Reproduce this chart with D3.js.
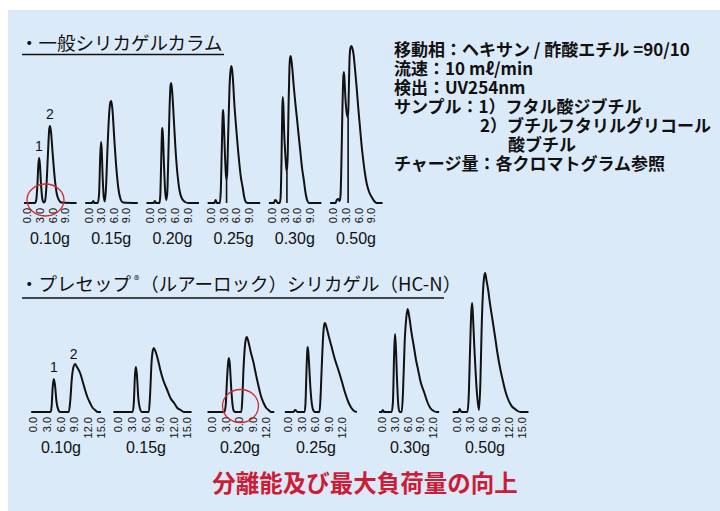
<!DOCTYPE html>
<html><head><meta charset="utf-8">
<script src="https://cdn.jsdelivr.net/npm/d3@7"></script>
<style>
html,body{margin:0;padding:0;background:#fff;}
svg{display:block;}
</style></head>
<body>
<svg id="chart" width="720" height="511"></svg>
<script>
// ---------------- DATA ----------------
const topLoads = ["0.10g","0.15g","0.20g","0.25g","0.30g","0.50g"];
const bottomLoads = ["0.10g","0.15g","0.20g","0.25g","0.30g","0.50g"];
const topTicks = [0,3,6,9];
const bottomTicks = [[0,3,6,9,12,15],[0,3,6,9,12,15],[0,3,6,9,12],[0,3,6,9,12],[0,3,6,9,12],[0,3,6,9,12,15]];

// [retention time (min), detector response]
const top010 = [[-0.7,0],[1.9,0],[2.2,3],[2.5,20],[2.7,38],[2.86,45],[3.05,40],[3.35,18],[3.65,4],[4.0,0.5],[4.3,2],[4.6,15],[5.0,50],[5.3,74],[5.48,77],[5.7,72],[6.1,50],[6.6,25],[7.1,9],[7.6,3],[8.2,0.5],[11.8,0]];
const top015 = [[-0.7,0],[0.9,0],[1.2,2],[1.5,0],[2.3,0],[2.6,10],[2.85,45],[3.05,61],[3.2,55],[3.45,25],[3.7,6],[3.95,1.5],[4.2,12],[4.6,55],[5.0,90],[5.3,101],[5.5,102],[5.8,92],[6.2,65],[6.7,35],[7.2,14],[7.7,4],[8.3,0.5],[11.8,0]];
const top020 = [[-0.7,0],[1.0,0],[1.3,2],[1.6,0],[2.4,0],[2.6,8],[2.8,40],[3.0,72],[3.1,75],[3.25,65],[3.5,35],[3.75,12],[4.0,3],[4.25,10],[4.5,45],[4.8,95],[5.05,118],[5.2,120],[5.45,110],[5.8,85],[6.2,55],[6.7,28],[7.2,12],[7.8,4],[8.5,1],[9.3,0],[11.8,0]];
const top025 = [[-0.7,0],[0.9,0],[1.2,3],[1.5,0],[2.2,0],[2.45,15],[2.7,60],[2.9,90],[3.0,93],[3.15,80],[3.4,50],[3.65,28],[3.8,23],[3.95,30],[4.2,70],[4.5,115],[4.8,134],[5.0,137],[5.3,125],[5.64,100],[6.0,80],[6.27,66],[6.6,50],[6.83,40],[7.2,26],[7.62,16],[8.0,6],[8.4,1],[8.9,0],[11.8,0]];
const top030 = [[-0.7,0],[0.5,0],[0.8,3],[1.1,2],[1.4,0],[1.9,0],[2.1,6],[2.3,40],[2.5,95],[2.6,106],[2.75,98],[2.95,70],[3.2,50],[3.45,35],[3.6,31],[3.8,50],[4.0,100],[4.2,135],[4.35,145],[4.5,147],[4.8,138],[5.24,116],[5.6,100],[6.03,83],[6.43,66],[6.83,50],[7.2,35],[7.62,23],[8.0,11],[8.4,3],[8.9,0],[11.8,0]];
const top050 = [[-0.7,0],[0.6,0],[0.9,3],[1.3,4],[1.6,2],[1.8,8],[2.0,40],[2.25,95],[2.45,125],[2.6,131],[2.75,122],[2.95,105],[3.2,92],[3.45,86],[3.6,86],[3.75,110],[3.95,145],[4.15,155],[4.35,157],[4.6,155],[4.85,150],[5.2,136],[5.6,117],[6.0,96],[6.4,77],[6.8,58],[7.2,43],[7.6,30],[8.0,20],[8.6,11],[9.2,6],[9.8,2],[10.4,0],[11.8,0]];
const topDrops = [null,null,null,3.8,3.6,3.6];

const bot010 = [[-0.4,0],[3.9,0],[4.1,5],[4.35,25],[4.6,33],[4.85,27],[5.2,10],[5.6,2],[6.0,0],[7.9,0],[8.2,10],[8.6,35],[9.0,46],[9.3,48],[9.7,45],[10.4,39],[11.0,30],[11.5,22],[12.0,15],[12.6,9],[13.2,4],[13.7,2],[14.3,0],[15.0,0]];
const bot015 = [[-1,0],[3.2,0],[3.45,10],[3.7,38],[3.9,45],[4.1,38],[4.4,15],[4.8,3],[5.2,0],[6.7,0],[6.95,15],[7.3,50],[7.6,62],[7.8,64],[8.2,60],[8.7,52],[9.2,42],[9.9,31],[10.7,22],[11.4,14],[12.2,9],[12.9,4],[13.6,2],[14.3,0],[16,0]];
const bot020 = [[-1,0],[2.8,0],[3.1,8],[3.4,35],[3.7,52],[3.8,54],[4.0,48],[4.3,25],[4.6,8],[4.9,1],[5.3,0],[6.6,0],[6.8,12],[7.1,45],[7.5,70],[7.8,75],[8.2,70],[8.7,60],[9.3,50],[9.9,37],[10.5,25],[11.0,16],[11.6,9],[12.2,4],[12.7,2],[13.3,0],[14.0,0]];
const bot025 = [[-0.7,0],[1.2,0],[1.6,2],[2.1,0],[3.7,0],[3.9,10],[4.1,40],[4.3,62],[4.4,65],[4.6,55],[4.9,30],[5.2,12],[5.6,2],[6.0,0],[7.0,0],[7.2,12],[7.5,45],[7.8,75],[8.0,86],[8.2,89],[8.6,84],[9.1,75],[9.7,65],[10.4,53],[11.2,42],[12.0,30],[12.7,19],[13.4,10],[14.1,4],[14.7,1],[15.3,0]];
const bot030 = [[-0.7,0],[-0.1,0],[0.2,2],[0.5,0],[2.3,0],[2.6,10],[2.9,60],[3.1,78],[3.3,65],[3.6,30],[3.9,6],[4.2,0],[4.7,0],[5.0,20],[5.4,70],[5.8,95],[6.1,103],[6.5,95],[7.0,80],[7.6,65],[8.1,52],[8.6,42],[9.2,30],[10.1,19],[10.8,10],[11.5,4],[12.3,1],[13.0,0],[13.6,0]];
const bot050 = [[-1,0],[0.3,0],[0.6,3],[1.0,0],[2.4,0],[2.7,15],[3.0,60],[3.3,100],[3.5,109],[3.7,95],[4.0,65],[4.3,40],[4.5,25],[4.8,10],[5.1,2],[5.4,30],[5.7,85],[6.0,120],[6.3,136],[6.5,139],[6.8,132],[7.2,122],[7.6,109],[8.2,92],[8.8,75],[9.3,60],[9.9,45],[10.5,33],[11.1,22],[11.6,15],[12.2,9],[12.8,5],[13.4,3],[14.0,1],[14.6,0],[16.5,0]];

const topSeries = [top010,top015,top020,top025,top030,top050];
const bottomSeries = [bot010,bot015,bot020,bot025,bot030,bot050];
const peakLabels = ["1","2"];
const topPeakIdx = [5,14];      // index in top010 of peaks 1 and 2
const botPeakIdx = [4,12];      // index in bot010 of peaks 1 and 2

const conditions = [
  "移動相：ヘキサン / 酢酸エチル =90/10",
  "流速：10 mℓ/min",
  "検出：UV254nm",
  "サンプル：1）フタル酸ジブチル",
  "2）ブチルフタリルグリコール",
  "酸ブチル",
  "チャージ量：各クロマトグラム参照"
];
const titleTop = "・一般シリカゲルカラム";
const titleBottom = ["・プレセップ","®","（ルアーロック）シリカゲル（HC-N）"];
const footer = "分離能及び最大負荷量の向上";

// ---------------- LAYOUT ----------------
const svg = d3.select("#chart");
const JP = "'Noto Sans CJK JP','Noto Sans',sans-serif";
const LAT = "'Liberation Sans',Arial,sans-serif";
const RED = "#d02a2e";

svg.append("rect").attr("x",8).attr("y",10).attr("width",712).attr("height",501).attr("fill","#dbeaf8");

const topBase = 203, botBase = 412;
const yTop = d3.scaleLinear().domain([0,160]).range([topBase, topBase-160]);
const yBot = d3.scaleLinear().domain([0,140]).range([botBase, botBase-140]);
const topX0 = d3.range(6).map(i => 27 + i*61.2);
const botX0 = [33, 118, 212, 288, 382, 457];
const botPx = [4.53, 4.6, 4.45, 4.5, 4.2, 4.33];

const line = (xs, ys) => d3.line().x(d => xs(d[0])).y(d => ys(d[1])).curve(d3.curveMonotoneX);

function drawPanel(g, series, xs, ys, ticks, base, label, labelY, labelX){
  g.append("path").datum(series).attr("d", line(xs, ys)).attr("fill","none")
   .attr("stroke","#111").attr("stroke-width",2).attr("stroke-linejoin","round");
  const ax = g.append("g").attr("transform",`translate(0,${base})`)
    .call(d3.axisBottom(xs).tickValues(ticks).tickSize(0).tickFormat(d3.format(".1f")));
  ax.select(".domain").remove();
  ax.selectAll("text").attr("transform","rotate(-90)").attr("x",-5).attr("y",0)
    .attr("dy","0.36em").style("text-anchor","end")
    .attr("font-family",LAT).attr("font-size",11).attr("fill","#111");
  g.append("text").attr("x",labelX).attr("y",labelY).attr("text-anchor","middle")
    .attr("font-family",LAT).attr("font-size",16).attr("fill","#111").text(label);
}

// top row
topSeries.forEach((s,i) => {
  const xs = d3.scaleLinear().domain([0,12]).range([topX0[i], topX0[i]+12*4.2]);
  const g = svg.append("g");
  drawPanel(g, s, xs, yTop, topTicks, topBase, topLoads[i], 244, topX0[i]+23);
  if (topDrops[i] !== null){
    const p = s.find(d => d[0] === topDrops[i]);
    g.append("line").attr("x1",xs(p[0])).attr("x2",xs(p[0])).attr("y1",yTop(0)).attr("y2",yTop(p[1]))
      .attr("stroke","#111").attr("stroke-width",1.6);
  }
  if (i === 0){
    topPeakIdx.forEach((k,j) => {
      g.append("text").attr("x",xs(s[k][0])).attr("y",yTop(s[k][1])-7).attr("text-anchor","middle")
        .attr("font-family",LAT).attr("font-size",14).attr("fill","#111").text(peakLabels[j]);
    });
    g.append("ellipse").attr("cx",xs(4.4)).attr("cy",yTop(3)).attr("rx",18.5).attr("ry",16)
      .attr("fill","none").attr("stroke",RED).attr("stroke-width",1.3);
  }
});

// bottom row
bottomSeries.forEach((s,i) => {
  const xs = d3.scaleLinear().domain([0,15]).range([botX0[i], botX0[i]+15*botPx[i]]);
  const g = svg.append("g");
  drawPanel(g, s, xs, yBot, bottomTicks[i], botBase, bottomLoads[i], 453, botX0[i]+28);
  if (i === 0){
    botPeakIdx.forEach((k,j) => {
      g.append("text").attr("x",xs(s[k][0])).attr("y",yBot(s[k][1])-7).attr("text-anchor","middle")
        .attr("font-family",LAT).attr("font-size",14).attr("fill","#111").text(peakLabels[j]);
    });
  }
  if (i === 2){
    g.append("ellipse").attr("cx",xs(6.4)).attr("cy",yBot(6)).attr("rx",18).attr("ry",16.5)
      .attr("fill","none").attr("stroke",RED).attr("stroke-width",1.3);
  }
});

// titles
svg.append("text").attr("x",20).attr("y",50).attr("font-family",JP).attr("font-size",18.5)
  .attr("fill","#111").text(titleTop);
svg.append("line").attr("x1",22).attr("x2",224).attr("y1",54.5).attr("y2",54.5).attr("stroke","#111").attr("stroke-width",1.3);

const tb = svg.append("text").attr("x",20).attr("y",291).attr("font-family",JP).attr("font-size",18.5).attr("fill","#111");
tb.append("tspan").text(titleBottom[0]);
tb.append("tspan").attr("font-size",11).attr("dy",-7).attr("dx",3).text(titleBottom[1]);
tb.append("tspan").attr("dy",7).attr("dx",1).text(titleBottom[2]);
svg.append("line").attr("x1",22).attr("x2",444).attr("y1",298).attr("y2",298).attr("stroke","#111").attr("stroke-width",1.3);

// conditions
const condX = [394,394,394,394,480,508,394];
conditions.forEach((t,i) => {
  svg.append("text").attr("x",condX[i]).attr("y",56+i*19).attr("font-family",JP)
    .attr("font-size",17).attr("font-weight","bold").attr("fill","#111").text(t);
});

// footer
svg.append("text").attr("x",365).attr("y",492).attr("text-anchor","middle").attr("font-family",JP)
  .attr("font-size",23.5).attr("font-weight","bold").attr("fill","#cc1c36").text(footer);
</script>
</body></html>
